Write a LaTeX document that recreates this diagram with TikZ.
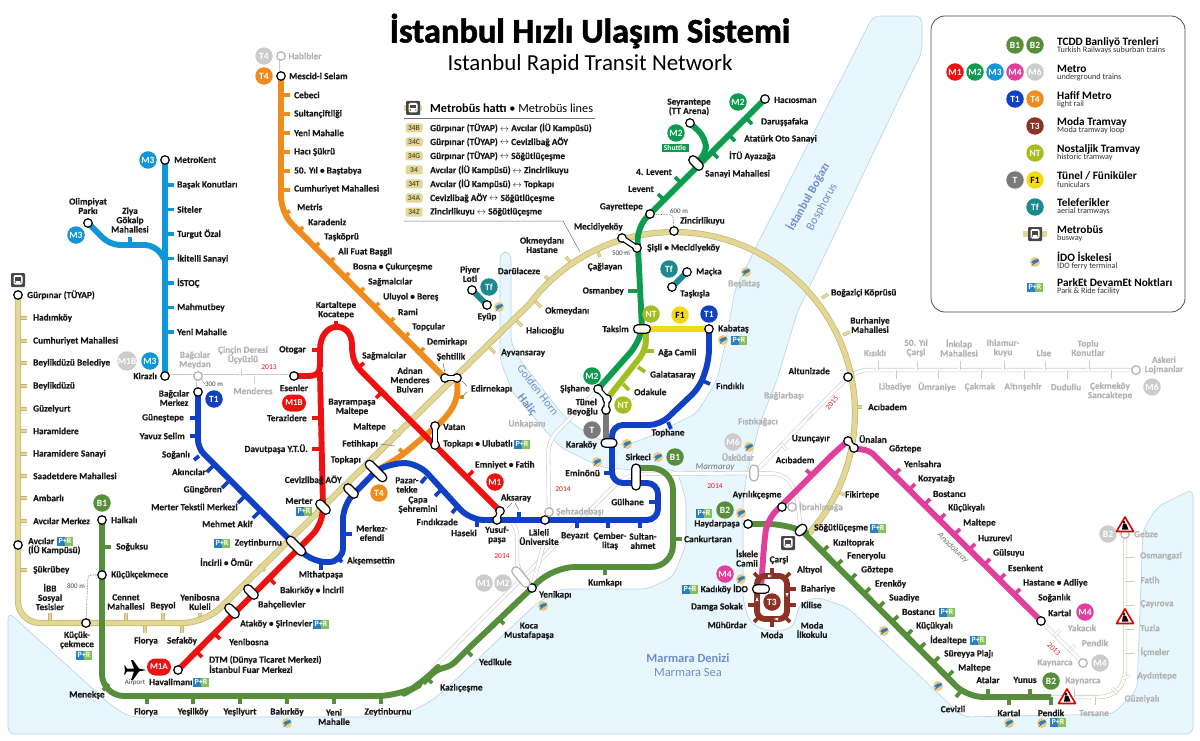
\documentclass[tikz,border=0pt]{standalone}
\usepackage{fontspec}
\setmainfont{Carlito}
\newfontfamily\heavyfont[UprightFont=* Bold,FakeBold=1.6]{Carlito}
\newfontfamily\stationfont[UprightFont=* Bold,FakeBold=0.3]{Carlito}
\usetikzlibrary{shapes.misc}
\definecolor{seablue}{HTML}{E8F6FE}
\definecolor{coast}{HTML}{B5D3E8}
\definecolor{clrMone}{HTML}{EE1111}
\definecolor{clrMtwo}{HTML}{0D9B4F}
\definecolor{clrMthree}{HTML}{0F96D8}
\definecolor{clrMfour}{HTML}{E0409B}
\definecolor{clrTone}{HTML}{1040C4}
\definecolor{clrTfour}{HTML}{F08C1E}
\definecolor{clrTthree}{HTML}{8B3326}
\definecolor{clrNT}{HTML}{A4BE22}
\definecolor{clrF}{HTML}{F3D916}
\definecolor{clrTf}{HTML}{1B8A8F}
\definecolor{clrT}{HTML}{7A7A7A}
\definecolor{clrB}{HTML}{578E3B}
\definecolor{clrBplan}{HTML}{BFCFAE}
\definecolor{clrPlan}{HTML}{CCCCCC}
\definecolor{beige}{HTML}{E2D795}
\definecolor{beigedark}{HTML}{C4B676}
\definecolor{graytext}{HTML}{B2B2B2}
\definecolor{waterlabel}{HTML}{6F8CCB}
\definecolor{prblue}{HTML}{2A80C4}
\definecolor{prgreen}{HTML}{86C05A}
\definecolor{ferryblue}{HTML}{2A7FC0}
\definecolor{ferrydisk}{HTML}{F2C87E}
\pgfdeclarelayer{sea}\pgfdeclarelayer{lines}\pgfdeclarelayer{top}
\pgfsetlayers{sea,lines,main,top}
\tikzset{
  stn/.style={circle,draw=black,fill=white,line width=1.2pt,minimum size=8.5pt,inner sep=0pt},
  gstn/.style={stn,draw=graytext},
  pill/.style={rounded rectangle,draw=black,fill=white,line width=1.2pt,minimum height=8.5pt,minimum width=#1,inner sep=0pt},
  gpill/.style={pill=#1,draw=graytext},
  badge/.style={circle,fill=#1,text=white,minimum size=17.5pt,inner sep=0pt,font=\bfseries\fontsize{9.5}{10}\selectfont},
  rbadge/.style={rounded rectangle,fill=clrMone,text=white,minimum height=17pt,minimum width=24pt,inner sep=0pt,font=\bfseries\fontsize{9}{10}\selectfont},
  lbl/.style={inner sep=0pt,text=black!90,align=center,font=\stationfont\fontsize{9.3}{9.3}\selectfont},
  glbl/.style={lbl,text=graytext},
  year/.style={inner sep=0pt,text=clrMone,font=\fontsize{7.5}{8}\selectfont},
  small/.style={inner sep=0pt,text=black!75,font=\fontsize{7}{8}\selectfont},
  water/.style={inner sep=0pt,text=waterlabel,align=center},
  rail/.style={draw=#1,line width=5.9pt,line join=round},
  tick/.style={draw=#1,line width=3.8pt},
  metrobus/.style={draw=beigedark,double=beige,line width=.7pt,double distance=4.8pt},
  mbtick/.style={draw=beigedark,double=beige,line width=.5pt,double distance=2.4pt},
  plan/.style={draw=#1,double=white,line width=.6pt,double distance=3pt},
  plan/.default=clrPlan,
  plantick/.style={draw=#1,double=white,line width=.5pt,double distance=2pt},
  plantick/.default=clrPlan,
  linkout/.style={draw=black,line width=6pt},
  linkin/.style={draw=white,line width=3.6pt},
  thinlink/.style={draw=black!55,line width=.5pt},
  walkway/.style={draw=black!70,line width=.6pt,densely dotted},
  parkride/.pic={
    \fill[prblue] (-8,-4.5) rectangle (0,4.5);
    \fill[prgreen] (0,-4.5) rectangle (8,4.5);
    \node[inner sep=0pt,text=white,font=\bfseries\fontsize{8}{8}\selectfont] (-t) {P+R};
  },
  ferry/.pic={
    \fill[ferrydisk] (0,0) circle (5pt);
    \fill[ferryblue,rotate=20] (.5,-.5) ellipse (4pt and 1.8pt);
    \fill[ferryblue] (-3.5,4.5) -- (-1,-.5) -- (1,.5) -- cycle;
  },
  busicon/.pic={
    \fill[black!72,rounded corners=1pt] (-7,-7) rectangle (7,7);
    \fill[white,rounded corners=1.5pt] (-4.5,-5) rectangle (4.5,4.5);
    \fill[black!72] (-3,-3) rectangle (3,.5);
    \fill[black!72] (-2.8,2) circle (.8pt) (2.8,2) circle (.8pt);
  },
  roadworks/.pic={
    \fill[white,draw=red!85!black,line width=1.6pt,line join=round] (-8.5,6.5) -- (0,-8) -- (8.5,6.5) -- cycle;
    \fill[black] (-1,-3) circle (1.4pt) (-2,-1.5) -- (1,-1.5) -- (3.5,4.5) -- (-3,4.5) -- cycle;
  },
}
\begin{document}
\begin{tikzpicture}[x=1pt,y=-1pt]
  \useasboundingbox (0,0) rectangle (1200,741);

  % Title
  \node[inner sep=0pt,font=\heavyfont\fontsize{34.4}{35}\selectfont] (title) at (590,31) {İstanbul Hızlı Ulaşım Sistemi};
  \node[inner sep=0pt,font=\fontsize{22.9}{24}\selectfont] (subtitle) at (590,64) {Istanbul Rapid Transit Network};

  % Water
  \begin{pgfonlayer}{sea}
    \fill[seablue,draw=coast,line width=.6pt,rounded corners=7pt] (8,612) -- (113,707) -- (130,717) -- (400,717) -- (433,700) -- (463,673) -- (537,603) -- (560,589) -- (647,589) -- (673,577) -- (686,545) -- (686,500) -- (677,470) -- (633,470) -- (600,467) -- (560,447) -- (513,393) -- (500,360) -- (500,252) -- (511,252) -- (511,343) -- (520,360) -- (563,415) -- (577,427) -- (610,445) -- (633,443) -- (653,435) -- (697,413) -- (717,380) -- (725,345) -- (735,290) -- (758,243) -- (873,16) -- (922,16) -- (922,52) -- (900,97) -- (797,313) -- (777,380) -- (760,423) -- (747,473) -- (743,500) -- (743,600) -- (750,623) -- (770,632) -- (793,628) -- (800,603) -- (817,597) -- (847,607) -- (963,717) -- (1113,714) -- (1137,690) -- (1143,530) -- (1157,507) -- (1193,489) -- (1193,734) -- (8,734) -- cycle;
  \end{pgfonlayer}
  \node[water,rotate=61,font=\bfseries\fontsize{12}{12}\selectfont] (bogazi) at (808,197) {İstanbul Boğazı};
  \node[water,rotate=61,font=\fontsize{12}{12}\selectfont] (bosphorus) at (822,207) {Bosphorus};
  \node[water,rotate=-52,font=\fontsize{11.5}{12}\selectfont] (ghorn) at (538,390) {Golden Horn};
  \node[water,rotate=-52,font=\bfseries\fontsize{11.5}{12}\selectfont] (halic) at (527,405) {Haliç};
  \node[water,font=\bfseries\fontsize{12.5}{13}\selectfont] (denizi) at (688,658) {Marmara Denizi};
  \node[water,font=\fontsize{12.5}{13}\selectfont] (msea) at (688,672) {Marmara Sea};
  \node[inner sep=0pt,text=black!55,rotate=-45,font=\itshape\fontsize{8.5}{9}\selectfont] (anadoluray) at (953,548) {Anadoluray};
  \node[inner sep=0pt,text=black!55,font=\itshape\fontsize{9}{9}\selectfont] (marmaray) at (715,467) {Marmaray};

  % Stations
  \foreach \n/\x/\y in {metrokent/165/160,olimpiyat/88/223,kirazli/165/376,mescid/281/76,gurpinar/18/295,avcilar/18/545,
    kucuk/86/623,halkali/102/520,kcekmece/102/575,esenler/294/376,bagcilar/198/392,dtm/178/670,vatan/435/426,ulubatli/435/445,
    aksaray/500/511,yusuf/497/520,laleli/545/520,yenikapi/532/588,hacisman/765/99,seyran/690/123,gayrettepe/650/214,
    zincirlikuyu/674/231,mecidiye/622/238,sisli/637/248,macka/687/272,taskisla/672/287,piyer/472/290,eyup/487/305,
    kabatas/709/329,sishane/598/389,tunel/607/399,beyoglu/606/410,altunizade/848/377,uzuncayir/848/441,unalan/854/448,
    ayrilik/782/507,haydarpasa/748/524,kartal/1041/621,sehtilikw/445/378,sehtilike/457/378}
    \node[stn] (\n) at (\x,\y) {};
  \foreach \n/\x/\y in {habibler/281/56,bmeydan/198/376,sehzade/549/512,ibrahim/792/507,askeri/1136/370,kaynarca/1083/663,gebze/1125/534}
    \node[gstn] (\n) at (\x,\y) {};
  \foreach \n/\x/\y/\w/\r in {zeytinburnu/296/546/24/-45,merter/323/507/17/-45,cevizlibag/351/491/17/-45,topkapi/376/471/27/-45,
    bahcelievler/251/592/17/-45,atakoy/232/611/17/-45,sanayi/696/163/17/-45,taksim/642/329/17/0,karakoy/609/443/16/0,
    sirkeci/636/477/26/90,sogutlu/801/530/13/45,kadikoy/761/589/17/0}
    \node[pill=\w,rotate=\r] (\n) at (\x,\y) {};
  \node[gpill=16,rotate=90] (uskudar) at (754,473) {};
  \node[gpill=24,rotate=-50] (ypill) at (521,577) {};

  % Lines
  \begin{pgfonlayer}{lines}
    % Planned lines
    \draw[plan] (kirazli.center) -- (esenler.center);
    \draw[plan] (bmeydan.center) -- (bagcilar.center);
    \draw[plan,rounded corners=10pt] (433,668) -- (620,480) -- (636,474) -- (uskudar.center) -- (784,474) -- (796,490) -- (sogutlu.center);
    \draw[plan] (ibrahim.center) -- (796,505);
    \draw[plan,rounded corners=6pt] (sishane.center) -- (552,437) -- (548,450) -- (sehzade.center);
    \draw[plan,rounded corners=6pt] (sehzade.center) -- (546,535) -- (yenikapi.center);
    \draw[plan,rounded corners=6pt] (aksaray.center) -- (517,528) -- (517,566) -- (yenikapi.center);
    \draw[plan,rounded corners=6pt] (uskudar.center) -- (altunizade.center) -- (862,370) -- (askeri.center);
    \draw[plan] (kartal.center) -- (kaynarca.center);
    \draw[plan] (habibler.center) -- (mescid.center);
    \draw[plan=clrBplan,rounded corners=25pt] (1051,697) -- (1125,697) -- (gebze.center);
    \foreach \x in {877,916,959,1003,1044,1088}
      \draw[plantick] (\x,370) -- ++(0,-9);
    \foreach \x in {895,937,980,1023,1066,1110}
      \draw[plantick] (\x,370) -- ++(0,9);
    \draw[plantick] (240,376) -- ++(0,-7);
    \draw[plantick] (253,376) -- ++(0,7);
    \draw[plantick] (1054,636) -- ++(6,-6);
    \draw[plantick] (1069,651) -- ++(6,-6);
    \draw[plantick] (806,419) -- ++(6,-6);
    \draw[plantick] (781,444) -- ++(6,6);
    \foreach \y in {556,580,604,628,652}
      \draw[plantick=clrBplan] (1125,\y) -- ++(9,0);
    \draw[plantick=clrBplan] (1122,679) -- ++(8,-4);
    \draw[plantick=clrBplan] (1112,688) -- ++(6,6);
    \draw[plantick=clrBplan] (1094,697) -- ++(0,8);
    \draw[plantick=clrBplan] (1073,697) -- ++(0,-8);

    % Metrobus
    \foreach \y in {318,341,363,386,409,431,454,476,498,521,570}
      \draw[mbtick] (18,\y) -- ++(9,0);
    \foreach \x in {50,126,163,200}
      \draw[mbtick] (\x,623) -- ++(0,-10);
    \foreach \x in {145,182}
      \draw[mbtick] (\x,623) -- ++(0,10);
    \foreach \x/\y/\dx/\dy in {265/571/-6/-6,400/436/-7/-6,489/347/6/6,516/320/6/6,535/301/6/6,551/282/-6/-6,571/263/-5/-6,597/250/3/7,822/298/6/-4,843/335/7/-3,853/407/9/0,837/492/8/3}
      \draw[mbtick] (\x,\y) -- ++(\dx,\dy);
    \draw[metrobus,rounded corners=22pt] (gurpinar.center) -- (18,623) -- (205,623) -- (529.4,304.1);
    \draw[metrobus] plot[domain=143:-41.7,samples=70] ({674+181*cos(\x)},{413-181*sin(\x)});

    % M3
    \draw[rail=clrMthree] (metrokent.center) -- (kirazli.center);
    \draw[rail=clrMthree,rounded corners=10pt] (olimpiyat.center) -- (110,245) -- (155,245) -- (165,260);
    \foreach \y in {185,209.5,234,258.5,283,307.5,332}
      \draw[tick=clrMthree] (165,\y) -- ++(9,0);
    \draw[tick=clrMthree] (130,245) -- ++(0,-8);

    % T4
    \draw[rail=clrTfour,rounded corners=16pt] (mescid.center) -- (281,213) -- (sehtilikw.center);
    \draw[rail=clrTfour,rounded corners=10pt] (sehtilike.center) -- (458,398) -- (447,417) -- (400,457) -- (topkapi.center);
    \foreach \y in {95,114,133,152,171,190}
      \draw[tick=clrTfour] (281,\y) -- ++(9,0);
    \draw[tick=clrTfour] (284,214) -- ++(6,-3);
    \draw[tick=clrTfour] (297,233) -- ++(6,-6);
    \foreach \x in {313,328,...,418}
      \draw[tick=clrTfour] (\x,{\x-64}) -- ++(6,-6);
    \draw[tick=clrTfour] (456,397) -- ++(8,0);
    \draw[tick=clrTfour] (405,454) -- ++(-6,-5);

    % M1
    \draw[rail=clrMone] (esenler.center) -- (308,376) .. controls (320,376) and (320,370) .. (320,360) -- (320,350) .. controls (320,320) and (352,320) .. (352,345) .. controls (352,358) and (355,365) .. (362,372) -- (aksaray.center);
    \draw[rail=clrMone] (320,372) -- (merter.center);
    \draw[rail=clrMone,rounded corners=12pt] (merter.center) -- (321,526) -- (dtm.center);
    \foreach \x/\y/\dx/\dy in {320/350/-8/0,320/418/-8/0,320/449/-8/0,336/328/0/-7,358/368/6/-5,382/392/-6/6,467/477/6/-6,
      269/578/6/6,214/633/6/6,196/651/6/6}
      \draw[tick=clrMone] (\x,\y) -- ++(\dx,\dy);

    % T1
    \draw[rail=clrTone,rounded corners=8pt] (bagcilar.center) -- (198,448) -- (zeytinburnu.center);
    \draw[rail=clrTone,rounded corners=14pt] (zeytinburnu.center) -- (312,562) -- (343,562) -- (343,505) -- (topkapi.center);
    \draw[rail=clrTone,rounded corners=14pt] (topkapi.center) -- (391,463) -- (418,463) -- (470,520) -- (yusuf.center);
    \draw[rail=clrTone,rounded corners=11pt] (yusuf.center) -- (658,520) -- (658,483) -- (612,483) -- (612,425) -- (660,425) -- (700,387) -- (709,360) -- (kabatas.center);
    \foreach \x/\y/\dx/\dy in {198/418/-8/0,198/436/-8/0,199/456/-5/4,213/466/-6/6,228/482/-6/6,244/497/-6/6,259/512/-6/6,
      321/562/0/8,336/556/6/6,343/534/9/0,426/477/-5/6,441/490/-6/6,457/507/-5/6,477/520/0/7,519/520/0/-8,
      577/520/0/8,608/520/0/8,640/520/0/8,658/502/-9/0,612/473/-8/0,668/422/3/7,703/381/7/3}
      \draw[tick=clrTone] (\x,\y) -- ++(\dx,\dy);

    % M2
    \draw[rail=clrMtwo,rounded corners=14pt] (hacisman.center) -- (637,227) -- (taksim.center);
    \draw[rail=clrMtwo,rounded corners=10pt] (taksim.center) -- (637,345) -- (sishane.center);
    \draw[rail=clrMtwo,rounded corners=10pt] (seyran.center) -- (706,138) -- (706,155) -- (sanayi.center);
    \foreach \x/\y/\dx/\dy in {746/118/6/6,729/135/6/6,712/152/6/6,681/183/-6/-6,664/200/-6/-6,637/291/-9/0}
      \draw[tick=clrMtwo] (\x,\y) -- ++(\dx,\dy);

    % Funicular, nostalgic tram and aerial tramways
    \draw[rail=clrF] (taksim.center) -- (kabatas.center);
    \draw[rail=clrNT,rounded corners=10pt] (646,329) -- (646,350) -- (tunel.center);
    \foreach \x/\y/\dx/\dy in {646/351/8/0,638/367/7/5,623/384/6/6}
      \draw[tick=clrNT] (\x,\y) -- ++(\dx,\dy);
    \draw[rail=clrT] (beyoglu.center) -- (606,443);
    \draw[rail=clrTf] (macka.center) -- (taskisla.center);
    \draw[rail=clrTf] (piyer.center) -- (eyup.center);

    % B1
    \draw[rail=clrB,rounded corners=22pt] (halkali.center) -- (102,696) -- (400,696) -- (423,683) -- (437,668);
    \draw[rail=clrB,rounded corners=7pt] (423,683) -- (437,669) -- (450,667) -- (470,647) -- (yenikapi.center);
    \draw[rail=clrB,rounded corners=22pt] (yenikapi.center) -- (553,567) -- (673,567) -- (673,468) -- (sirkeci.center |- 0,468);
    \foreach \x/\y/\dx/\dy in {102/547/9/0,109/684/-6/6,147/696/0/8,193/696/0/8,240/696/0/8,287/696/0/8,334/696/0/8,381/696/0/8,
      426/677/6/6,466/650/6/6,498/618/6/6,605/567/0/8,673/539/9/0}
      \draw[tick=clrB] (\x,\y) -- ++(\dx,\dy);

    % B2
    \draw[rail=clrB,rounded corners=20pt] (haydarpasa.center) -- (788,524) -- (sogutlu.center);
    \draw[rail=clrB,rounded corners=16pt] (sogutlu.center) -- (967,697) -- (1051,697);
    \foreach \x in {822,836,850,864,878,892,906,919,933,947}
      \draw[tick=clrB] (\x,{\x-270}) -- ++(6,-6);
    \foreach \x/\y/\dx/\dy in {961/691/-5/6,988/697/0/-8,1030/697/0/-8,1009/697/0/8,1051/697/0/8}
      \draw[tick=clrB] (\x,\y) -- ++(\dx,\dy);

    % M4
    \draw[rail=clrMfour,rounded corners=5pt] (kartal.center) -- (870,451) -- (unalan.center);
    \draw[rail=clrMfour,rounded corners=12pt] (uzuncayir.center) -- (836,451) -- (767,520) -- (764,545) -- (kadikoy.center);
    \draw[tick=clrMfour] (812,475) -- ++(-6,-5);
    \foreach \x in {894,909,...,1026}
      \draw[tick=clrMfour] (\x,{\x-419}) -- ++(6,-6);

    % T3
    \draw[rail=clrTthree,rounded corners=8pt] (757,576) rectangle (787,619);
    \foreach \x/\y/\dx/\dy in {772/576/0/-8,785/578/5/-5,787/589/9/0,787/605/9/0,785/617/5/5,772/619/0/8,759/617/-5/5,757/605/-9/0,759/578/-5/-5}
      \draw[tick=clrTthree] (\x,\y) -- ++(\dx,\dy);
    \fill[white] (768,574.5) -- (772,576) -- (768,577.5) -- cycle;
    \fill[white] (785.5,593) -- (788.5,593) -- (787,597) -- cycle;
    \fill[white] (778,617.5) -- (774,619) -- (778,620.5) -- cycle;
    \fill[white] (755.5,601) -- (758.5,601) -- (757,597) -- cycle;

    % Links between stations
    \foreach \a/\b in {sehtilikw/sehtilike,mecidiye/sisli,sishane/tunel,tunel/beyoglu,vatan/ulubatli,aksaray/yusuf,uzuncayir/unalan}
      \draw[linkout] (\a.center) -- (\b.center);

    % Leaders and walkways
    \draw[thinlink] (443,363) -- (445,373);
    \draw[thinlink] (467,386) -- (462,381);
    \draw[thinlink] (467,392) -- (461,398);
    \draw[thinlink] (507,508) -- (512,503);
    \draw[thinlink] (515,503) -- (519,510);
    \draw[thinlink] (380,444) -- (395,446);
    \draw[thinlink] (404,221) -- (563,221) -- (580,252);
    \draw[thinlink] (404,118) -- (595,118);
    \draw[walkway,rounded corners=3pt] (gayrettepe.center) -- (673,215) -- (zincirlikuyu.center);
    \draw[walkway,rounded corners=3pt] (kcekmece.center) -- (88,575) -- (kucuk.center);
    \draw[walkway] (sisli.center) -- (622,253);
    \draw[walkway] (bmeydan.center) -- (205,384);
  \end{pgfonlayer}
  \begin{pgfonlayer}{top}
    \foreach \a/\b in {sehtilikw/sehtilike,mecidiye/sisli,sishane/tunel,tunel/beyoglu,vatan/ulubatli,aksaray/yusuf,uzuncayir/unalan}
      \draw[linkin] (\a.center) -- (\b.center);
  \end{pgfonlayer}

  % Labels to the right of their point
  \foreach \x/\y/\t [count=\i] in {174/160/MetroKent,177/185/Başak Konutları,177/209.5/Siteler,177/234/Turgut Özal,177/258.5/İkitelli Sanayi,177/283/İSTOÇ,177/307.5/Mahmutbey,177/332/Yeni Mahalle,
    289/76/Mescid-i Selam,294/95/Cebeci,294/114/Sultançiftliği,294/133/Yeni Mahalle,294/152/Hacı Şükrü,294/171/50. Yıl • Baştabya,294/189/Cumhuriyet Mahallesi,
    297/207/Metris,308/222/Karadeniz,324/237/Taşköprü,338/252/Ali Fuat Başgil,353/267/Bosna • Çukurçeşme,368/282/Sağmalcılar,383/297/Uluyol • Bereş,398/312/Rami,412/327/Topçular,427/342/Demirkapı,
    27/295/Gürpınar (TÜYAP),33/318/Hadımköy,33/341/Cumhuriyet Mahallesi,33/363/Beylikdüzü Belediye,33/386/Beylikdüzü,33/409/Güzelyurt,33/431/Haramidere,33/454/Haramidere Sanayi,33/476/Saadetdere Mahallesi,33/498/Ambarlı,33/521/Avcılar Merkez,28/541/Avcılar,28/550/(İÜ Kampüsü),33/570/Şükrübey,
    111/520/Halkalı,116/547/Soğuksu,111/575/Küçükçekmece,229/642/Yenibosna,240/624/Ataköy • Şirinevler,258/605/Bahçelievler,280/590/Bakırköy • İncirli,347/561/Akşemsettin,
    209/660/DTM (Dünya Ticaret Merkezi),209/669/İstanbul Fuar Merkezi,149/682/Havalimanı,362/356/Sağmalcılar,443/427/Vatan,443/444/Topkapı • Ulubatlı,475/465/Emniyet • Fatih,471/389/Edirnekapı,
    545/311/Okmeydanı,526/331/Halıcıoğlu,501/353/Ayvansaray,696/272/Maçka,680/294/Taşkışla,718/329/Kabataş,658/353/Ağa Camii,650/375/Galatasaray,634/392/Odakule,
    774/100/Hacıosman,761/122/Daruşşafaka,744/139/Atatürk Oto Sanayi,729/156/İTÜ Ayazağa,705/174/Sanayi Mahallesi,680/221/Zincirlikuyu,647/248/Şişli • Mecidiyeköy,
    831/293/Boğaziçi Köprüsü,868/407/Acıbadem,859/439/Ünalan,845/495/Fikirtepe,716/386/Fındıklı,684/539/Cankurtaran,539/595/Yenikapı,479/662/Yedikule,440/688/Kazlıçeşme,
    814/528/Söğütlüçeşme,833/543/Kızıltoprak,847/556/Feneryolu,861/570/Göztepe,875/584/Erenköy,889/598/Suadiye,902/612/Bostancı,916/626/Küçükyalı,930/640/İdealtepe,944/654/Süreyya Plajı,958/668/Maltepe,
    889/449/Göztepe,904/464/Yenisahra,918/479/Kozyatağı,933/494/Bostancı,948/508/Küçükyalı,963/523/Maltepe,978/538/Huzurevi,993/553/Gülsuyu,1008/568/Esenkent,1023/583/Hastane • Adliye,1038/598/Soğanlık,1048/613/Kartal,
    797/570/Altıyol,801/589/Bahariye,801/605/Kilise}
    \node[lbl,anchor=west] (lw\i) at (\x,\y) {\t};
  % Labels to the left of their point
  \foreach \x/\y/\t [count=\i] in {157/376/Kirazlı,306/350/Otogar,307/418/Terazidere,308/449/Davutpaşa Y.T.Ü.,184/418/Güneştepe,185/436/Yavuz Selim,190/455/Soğanlı,206/472/Akıncılar,222/490/Güngören,238/507/Merter Tekstil Merkezi,253/524/Mehmet Akif,282/543/Zeytinburnu,253/562/İncirli • Ömür,
    386/427/Maltepe,378/444/Fetihkapı,361/460/Topkapı,342/480/Cevizlibağ AÖY,458/522/Fındıkzade,672/172/4. Levent,654/189/Levent,643/207/Gayrettepe,623/227/Mecidiyeköy,624/291/Osmanbey,629/329/Taksim,
    590/389/Şişhane,597/402/Tünel,598/412/Beyoğlu,597/445/Karaköy,651/457/Sirkeci,600/473/Eminönü,644/502/Gülhane,830/371/Altunizade,830/439/Uzunçayır,740/524/Haydarpaşa,748/589/Kadıköy İDO,743/607/Damga Sokak,747/625/Mühürdar}
    \node[lbl,anchor=east] (le\i) at (\x,\y) {\t};
  % Labels centred on their point, some with more lines
  \foreach \x/\y/\t [count=\i] in {88/206/{Olimpiyat\\Parkı},130/220/{Ziya\\Gökalp\\Mahallesi},50/597/{İBB\\Sosyal\\Tesisler},77/640/{Küçük-\\çekmece},126/602/{Cennet\\Mahallesi},163/606/Beşyol,200/602/{Yenibosna\\Kuleli},146/641/Florya,182/641/Sefaköy,
    87/695/Menekşe,146/712/Florya,193/712/Yeşilköy,240/712/Yeşilyurt,287/712/Bakırköy,334/717/{Yeni\\Mahalle},388/712/Zeytinburnu,336/310/{Kartaltepe\\Kocatepe},294/388/Esenler,174/398/{Bağcılar\\Merkez},321/575/Mithatpaşa,372/533/{Merkez-\\efendi},
    299/501/Merter,352/407/{Bayrampaşa\\Maltepe},410/380/{Adnan\\Menderes\\Bulvarı},407/485/{Pazar-\\tekke},418/505/{Çapa\\Şehremini},464/533/Haseki,497/535/{Yusuf-\\paşa},516/498/Aksaray,539/537/{Läleli\\Üniversite},575/536/Beyazıt,610/541/{Çember-\\litaş},643/541/{Sultan-\\ahmet},605/583/Kumkapı,529/631/{Koca\\Mustafapaşa},
    451/357/Şehtilik,470/274/{Piyer\\Loti},487/317/Eyüp,519/271/Darülaceze,542/245/{Okmeydanı\\Hastane},605/267/Çağlayan,689/107/{Seyrantepe\\(TT Arena)},870/325/{Burhaniye\\Mahallesi},668/433/Tophane,795/460/Acıbadem,757/495/Ayrılıkçeşme,
    779/560/Çarşi,747/558/{İskele\\Camii},772/635/Moda,812/630/{Moda\\İlkokulu},988/680/Atalar,1025/680/Yunus,953/709/Cevizli,1009/713/Kartal,1051/713/Pendik}
    \node[lbl] (lc\i) at (\x,\y) {\t};
  % Labels of lines not yet open
  \foreach \x/\y/\t [count=\i] in {195/360/{Bağcılar\\Meydan},243/355/{Çinçin Deresi\\Üçyüzlü},253/391/Menderes,305/56/Habibler,744/284/Beşiktaş,527/424/Unkapanı,580/512/Şehzadebaşı,784/396/Bağlarbaşı,758/422/Fıstıkağacı,738/457/Üsküdar,821/507/İbrahimağa,
    875/353/Kısıklı,916/348/{50. Yıl\\Çarşi},959/348/{İnkılap\\Mahallesi},1003/348/{Ihlamur-\\kuyu},1044/353/Lise,1088/348/{Toplu\\Konutlar},895/387/Libadiye,937/387/Ümraniye,980/387/Çakmak,1023/387/Altınşehir,1066/387/Dudullu,1110/391/{Çekmeköy\\Sancaktepe},
    1164/365/{Askeri\\Lojmanlar},1082/628/Yakacık,1095/643/Pendik,1055/663/Kaynarca,1083/681/Kaynarca,1094/713/Tersane,1146/534/Gebze,1161/556/Osmangazi,1150/580/Fatih,1157/604/Çayırova,1150/628/Tuzla,1155/652/İçmeler,1157/676/Aydıntepe,1142/699/Güzelyalı}
    \node[glbl] (lg\i) at (\x,\y) {\t};

  % Small texts
  \foreach \x/\y/\r/\t [count=\i] in {269/367/0/2013,502/556/0/2014,563/489/0/2014,715/486/0/2014,1054/649/-45/2013,832/403/50/2015}
    \node[year,rotate=\r] (yr\i) at (\x,\y) {\t};
  \foreach \x/\y/\t [count=\i] in {679/211/600 m,621/253/500 m,76/586/800 m,214/384/300 m,135/683/Airport}
    \node[small] (sm\i) at (\x,\y) {\t};

  % Line badges
  \foreach \x/\y/\c/\t [count=\i] in {264/56/clrPlan/T4,264/76/clrTfour/T4,148/160/clrMthree/M3,76/235/clrMthree/M3,127/361/clrPlan/M1B,150/361/clrMthree/M3,214/399/clrTone/T1,102/503/clrB/B1,
    738/102/clrMtwo/M2,676/133/clrMtwo/M2,669/269/clrTf/Tf,489/287/clrTf/Tf,651/314/clrNT/NT,709/314/clrTone/T1,592/376/clrMtwo/M2,623/405/clrNT/NT,592/430/clrT/T,675/457/clrB/B1,495/482/clrMone/M1,379/493/clrTfour/T4,
    733/442/clrPlan/M6,725/510/clrB/B2,725/574/clrMfour/M4,772/602/clrTthree/T3,484/583/clrPlan/M1,503/583/clrPlan/M2,1152/387/clrPlan/M6,1085/612/clrMfour/M4,1100/663/clrPlan/M4,1051/681/clrB/B2,1108/534/clrPlan/B2}
    \node[badge=\c] (bd\i) at (\x,\y) {\t};
  \node[badge=clrF,text=black] (bdfone) at (680,315) {F1};
  \node[rbadge] (bdmoneb) at (294,403) {M1B};
  \node[rbadge] (bdmonea) at (159,667) {M1A};
  \node[fill=clrMtwo,text=white,minimum width=27pt,minimum height=8pt,inner sep=0pt,font=\bfseries\fontsize{7.5}{8}\selectfont] (shuttle) at (675,148) {Shuttle};

  % Icons
  \foreach \x/\y [count=\i] in {84/655,222/543,304/511,321/624,201/682,522/444,739/340,704/513,690/589,878/528,947/612,978/640,1058/722,65/541}
    \pic (pr\i) at (\x,\y) {parkride};
  \foreach \x/\y in {287/723,499/307,746/272,723/340,627/444,658/457,597/462,543/606,749/447,741/513,741/579,884/631,938/686,1009/723,1042/723}
    \pic at (\x,\y) {ferry};
  \fill[beige] (404,105) rectangle (422,111);
  \foreach \x/\y in {18/280,413/108,788/543}
    \pic at (\x,\y) {busicon};
  \foreach \x/\y in {1125/525,1125/617,1067/697}
    \pic at (\x,\y) {roadworks};
  \fill[black] (146,670) -- (139,668.5) -- (133,660) -- (131,660) -- (134,668.5) -- (127,668.5) -- (125,665.5) -- (124.2,665.5) -- (125,670) -- (124.2,674.5) -- (125,674.5) -- (127,671.5) -- (134,671.5) -- (131,680) -- (133,680) -- (139,671.5) -- cycle;

  % Metrobus table
  \node[inner sep=0pt,anchor=west,font=\fontsize{12.3}{13}\selectfont] (mbhead) at (430,108) {\textbf{Metrobüs hattı} • Metrobüs lines};
  \foreach \y/\c/\t [count=\i] in {128/34B/{Gürpınar (TÜYAP) $\leftrightarrow$ Avcılar (İÜ Kampüsü)},142/34C/{Gürpınar (TÜYAP) $\leftrightarrow$ Cevizlibağ AÖY},156/34G/{Gürpınar (TÜYAP) $\leftrightarrow$ Söğütlüçeşme},170/34/{Avcılar (İÜ Kampüsü) $\leftrightarrow$ Zincirlikuyu},184/34T/{Avcılar (İÜ Kampüsü) $\leftrightarrow$ Topkapı},198/34A/{Cevizlibağ AÖY $\leftrightarrow$ Söğütlüçeşme},212/34Z/{Zincirlikuyu $\leftrightarrow$ Söğütlüçeşme}}{
    \node[fill=beige,rounded corners=1.5pt,minimum width=17pt,minimum height=9pt,inner sep=0pt,text=black!60!beige,font=\bfseries\fontsize{7.5}{8}\selectfont] (tag\i) at (414,\y) {\c};
    \node[lbl,anchor=west] (row\i) at (430,\y) {\t};
  }

  % Legend
  \node[draw=black!70,line width=.8pt,rounded corners=14pt,minimum width=254pt,minimum height=296pt,inner sep=0pt] (legend) at (1058,164) {};
  \foreach \y/\a/\b [count=\i] in {42/TCDD Banliyö Trenleri/Turkish Railways suburban trains,68.5/Metro/underground trains,95.5/Hafif Metro/light rail,122/Moda Tramvay/Moda tramway loop,149/Nostaljik Tramvay/historic tramway,176/Tünel {/} Füniküler/funiculars,203/Teleferikler/aerial tramways,230/Metrobüs/busway,257/İDO İskelesi/İDO ferry terminal,283/ParkEt DevamEt Noktları/Park \& Ride facility}{
    \node[inner sep=0pt,anchor=west,font=\bfseries\fontsize{11.3}{11}\selectfont] (lt\i) at (1057,\y) {\a};
    \node[inner sep=0pt,anchor=west,text=black!80,font=\fontsize{8.2}{8}\selectfont] (ls\i) at (1057,\y+8.5) {\b};
  }
  \foreach \x/\y/\c/\t [count=\i] in {1015/45/clrB/B1,1035/45/clrB/B2,955/72/clrMone/M1,975/72/clrMtwo/M2,995/72/clrMthree/M3,1015/72/clrMfour/M4,1035/72/clrPlan/M6,1015/99/clrTone/T1,1035/99/clrTfour/T4,1035/126/clrTthree/T3,1035/153/clrNT/NT,1015/180/clrT/T,1035/207/clrTf/Tf}
    \node[badge=\c] (lb\i) at (\x,\y) {\t};
  \node[badge=clrF,text=black] (lbfone) at (1035,180) {F1};
  \fill[beige] (1023,231) rectangle (1047,237);
  \pic at (1035,234) {busicon};
  \pic at (1035,262) {ferry};
  \pic (prlegend) at (1035,287) {parkride};
\end{tikzpicture}
\end{document}
